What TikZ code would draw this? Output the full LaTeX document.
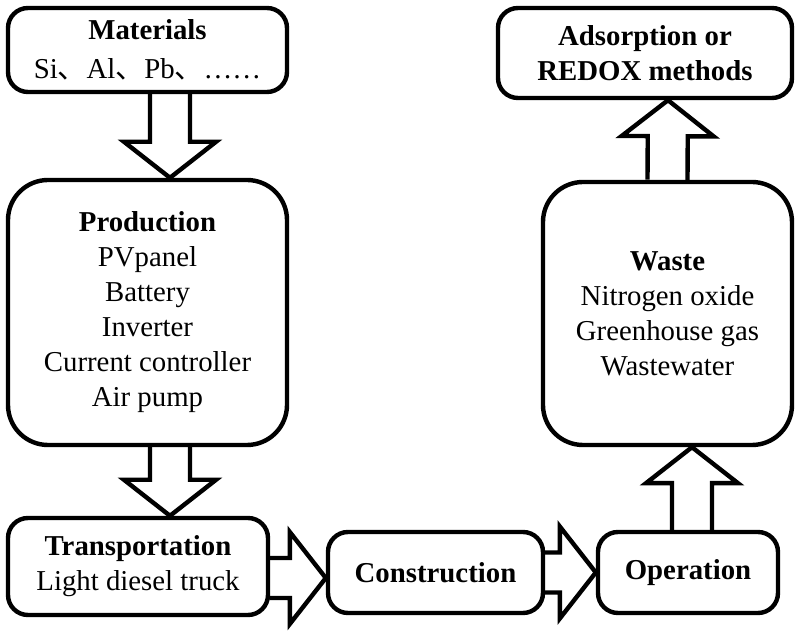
\documentclass[tikz,border=0pt]{standalone}
\usepackage{fontspec}
\setmainfont{Liberation Serif}
\newfontfamily\cjk{Noto Sans CJK SC}
\usetikzlibrary{calc}

% hollow block arrow from #1 to #2
\newcommand\fatarrow[2]{%
  \draw[fat]
    let
      \p1=#1, \p2=#2,
      \n1={atan2(\y2-\y1,\x2-\x1)},
      \n2={veclen(\x2-\x1,\y2-\y1)}
    in [shift={(\p1)}, rotate=\n1]
    (0pt,-10pt) -- (\n2-18pt,-10pt) -- (\n2-18pt,-23pt) -- (\n2,0pt)
    -- (\n2-18pt,23pt) -- (\n2-18pt,10pt) -- (0pt,10pt)
  ;
}

\begin{document}
\begin{tikzpicture}[
  x=0.5pt, y=0.5pt,
  box/.style={draw, line width=2.2pt, rounded corners=10pt, inner sep=0pt,
    align=center, font=\fontsize{14.4pt}{17.5pt}\selectfont},
  bigbox/.style={box, rounded corners=20pt},
  fat/.style={line width=2.2pt, line join=miter}
]
  \useasboundingbox (0,0) rectangle (800,632);

  \node[box, minimum width=139.5pt, minimum height=42pt] at (147.5,582) (mat)
    {\textbf{Materials}\\[2pt]Si{\cjk 、}Al{\cjk 、}Pb{\cjk 、}……};
  \node[box, minimum width=147pt, minimum height=45pt] at (645,579) (ads)
    {\textbf{Adsorption or}\\\textbf{REDOX methods}};
  \node[bigbox, minimum width=139.5pt, minimum height=132.5pt] at (147.5,319.5) (prod)
    {\textbf{Production}\\PVpanel\\Battery\\Inverter\\Current controller\\Air pump};
  \node[bigbox, minimum width=124.5pt, minimum height=131.5pt] at (667.5,318.5) (waste)
    {\textbf{Waste}\\Nitrogen oxide\\Greenhouse gas\\Wastewater};
  \node[box, minimum width=130pt, minimum height=48.5pt] at (138,65.5) (trans)
    {\textbf{Transportation}\\Light diesel truck};
  \node[box, minimum width=107.5pt, minimum height=40.5pt] at (435.5,59.5) (cons)
    {\textbf{Construction}};
  \node[box, minimum width=90pt, minimum height=40.5pt] at (688,59.5) (oper)
    {\textbf{Operation}};

  \fatarrow{([xshift=11.25pt]mat.south)}{([xshift=11.25pt]prod.north)}
  \fatarrow{([xshift=11.25pt]prod.south)}{([xshift=16pt]trans.north)}
  \fatarrow{([yshift=-5.75pt]trans.east)}{([yshift=-2.75pt]cons.west)}
  \fatarrow{(cons.east)}{(oper.west)}
  \fatarrow{([xshift=2pt]oper.north)}{([xshift=12.25pt]waste.south)}
  \fatarrow{(waste.north)}{([xshift=11.5pt]ads.south)}
\end{tikzpicture}
\end{document}
